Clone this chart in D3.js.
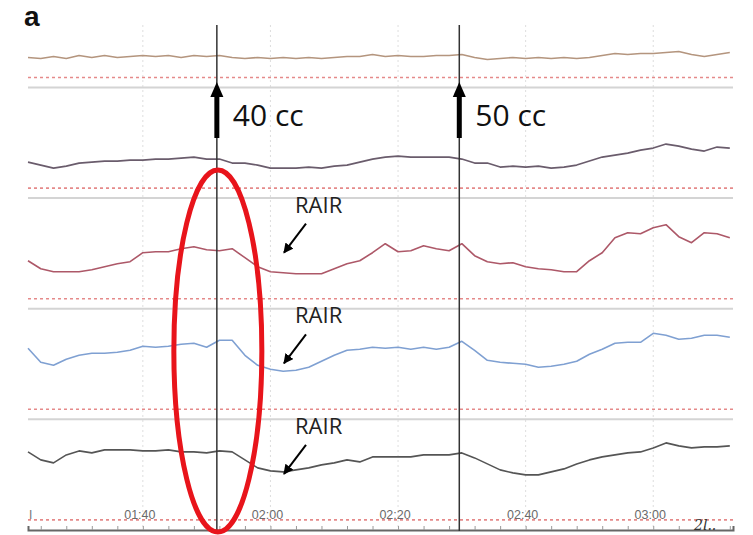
<!DOCTYPE html>
<html>
<head>
<meta charset="utf-8">
<script src="https://cdn.jsdelivr.net/npm/d3@7/dist/d3.min.js"></script>
<style>
  body { margin: 0; background: #fff; }
  svg { display: block; }
</style>
</head>
<body>
<script>
// sample times in seconds (2 s step)
var times = [82, 84, 86, 88, 90, 92, 94, 96, 98, 100, 102, 104, 106, 108, 110, 112, 114, 116, 118, 120,
  122, 124, 126, 128, 130, 132, 134, 136, 138, 140, 142, 144, 146, 148, 150, 152, 154, 156, 158, 160,
  162, 164, 166, 168, 170, 172, 174, 176, 178, 180, 182, 184, 186, 188, 190, 192];

// trace height above each channel's dotted baseline
var ch1 = [20, 19, 21, 19, 22, 20, 22, 20, 21, 22, 21, 22, 20, 22, 21, 22, 20, 19, 20, 19,
  20, 19, 20, 19, 20, 21, 21, 23, 21, 22, 21, 21, 22, 22, 23, 20, 18, 19, 20, 19,
  20, 19, 20, 19, 20, 22, 24, 23, 24, 24, 25, 26, 23, 21, 23, 25];
var ch2 = [26, 23, 20, 22, 25, 26, 27, 27, 28, 28, 29, 29, 30, 31, 29, 29, 25, 25, 23, 20,
  20, 20, 21, 20, 22, 23, 26, 29, 31, 32, 31, 31, 31, 31, 29, 25, 25, 21, 22, 21,
  22, 20, 21, 23, 27, 31, 33, 35, 38, 40, 44, 42, 39, 37, 41, 40];
var ch3 = [38, 30, 27, 27, 27, 29, 32, 35, 37, 46, 47, 47, 50, 52, 49, 48, 50, 41, 32, 27,
  26, 25, 25, 25, 30, 35, 38, 46, 55, 47, 48, 53, 50, 48, 55, 43, 37, 35, 36, 32,
  30, 29, 27, 27, 38, 46, 61, 66, 65, 71, 74, 62, 56, 66, 65, 61];
var ch4 = [61, 47, 44, 50, 54, 56, 56, 57, 59, 63, 62, 63, 65, 66, 62, 69, 69, 54, 44, 40,
  38, 39, 42, 48, 54, 59, 60, 62, 61, 62, 60, 62, 60, 62, 68, 59, 49, 47, 46, 45,
  42, 43, 45, 48, 55, 60, 66, 67, 67, 76, 74, 70, 71, 74, 74, 72];
var ch5 = [68, 60, 57, 65, 69, 67, 70, 70, 70, 69, 69, 70, 68, 68, 67, 69, 68, 60, 52, 49,
  48, 50, 52, 55, 57, 60, 58, 63, 63, 63, 63, 65, 65, 65, 67, 62, 56, 50, 47, 45,
  45, 48, 51, 56, 60, 63, 65, 67, 68, 72, 77, 74, 72, 73, 73, 74];

var traceColors = ["#b4957e", "#6a5c6c", "#ad5868", "#7fa0d2", "#555555"];
var channels = [ch1, ch2, ch3, ch4, ch5];

var tickTimes = [100, 120, 140, 160, 180];
var tickLabels = ["01:40", "02:00", "02:20", "02:40", "03:00"];
var doses = [{ t: 111.6, label: "40 cc" }, { t: 149.6, label: "50 cc" }];
var rairChannels = [2, 3, 4];

var svgWidth = 753;
var svgHeight = 535;

var svg = d3.select("body")
  .append("svg")
  .attr("width", svgWidth)
  .attr("height", svgHeight);

var x = d3.scaleLinear().domain([82, 192.5]).range([28, 733]);

// channel bands
var firstBase = 77.5;
var bandH = 110.6;
var baseY = function (i) { return firstBase + i * bandH; };

// vertical dotted grid
svg.selectAll(".grid")
  .data(tickTimes)
  .enter()
  .append("line")
  .attr("x1", d => x(d))
  .attr("x2", d => x(d))
  .attr("y1", 25)
  .attr("y2", 530)
  .attr("stroke", "#dedede")
  .attr("stroke-width", 1)
  .attr("stroke-dasharray", "2,3");

// separators + dotted baselines
channels.forEach(function (vals, i) {
  var b = baseY(i);
  if (i < 4) {
    svg.append("line")
      .attr("x1", 28).attr("x2", 733)
      .attr("y1", b + 10).attr("y2", b + 10)
      .attr("stroke", "#d4d4d4")
      .attr("stroke-width", 2);
  }
  svg.append("line")
    .attr("x1", 28).attr("x2", 733)
    .attr("y1", b).attr("y2", b)
    .attr("stroke", "#e58a8a")
    .attr("stroke-width", 1.6)
    .attr("stroke-dasharray", "3,3");
});

// tick labels (they sit on the last dotted line)
svg.selectAll(".tlabel")
  .data(tickTimes)
  .enter()
  .append("text")
  .attr("x", d => x(d) - 3)
  .attr("y", 519)
  .attr("text-anchor", "middle")
  .style("font-family", "Liberation Sans, Arial, sans-serif")
  .style("font-size", "12.5px")
  .style("fill", "#6a6a6a")
  .text((d, i) => tickLabels[i]);

svg.append("text")
  .attr("x", 29).attr("y", 519)
  .style("font-family", "Liberation Sans, Arial, sans-serif")
  .style("font-size", "12px")
  .style("fill", "#777")
  .text("I");

// bottom axis
var axis = d3.axisTop(x)
  .tickValues(d3.range(84, 193, 4))
  .tickSize(4)
  .tickFormat("");
var axisG = svg.append("g")
  .attr("transform", "translate(0,530)")
  .call(axis);
axisG.select(".domain").attr("stroke", "#666").attr("stroke-width", 2);
axisG.selectAll(".tick line").attr("stroke", "#999");

svg.append("text")
  .attr("x", 694).attr("y", 530)
  .style("font-family", "DejaVu Serif, serif")
  .style("font-style", "italic")
  .style("font-size", "14px")
  .style("fill", "#333")
  .text("2l..");

// traces
channels.forEach(function (vals, i) {
  var y = d3.scaleLinear().domain([0, 100]).range([baseY(i), baseY(i) - 100]);
  var line = d3.line()
    .x((d, j) => x(times[j]))
    .y(d => y(d));
  svg.append("path")
    .datum(vals)
    .attr("d", line)
    .attr("fill", "none")
    .attr("stroke", traceColors[i])
    .attr("stroke-width", 1.6)
    .attr("stroke-linejoin", "round");
});

// dose lines, arrows, labels
doses.forEach(function (d) {
  var xx = x(d.t);
  svg.append("line")
    .attr("x1", xx).attr("x2", xx)
    .attr("y1", 25).attr("y2", 531)
    .attr("stroke", "#333")
    .attr("stroke-width", 1.5);
  svg.append("rect")
    .attr("x", xx - 2.5).attr("y", 95)
    .attr("width", 5).attr("height", 43)
    .attr("fill", "#000");
  svg.append("path")
    .attr("d", `M${xx},82 L${xx - 6.5},97 L${xx + 6.5},97 Z`)
    .attr("fill", "#000");
  svg.append("text")
    .attr("x", xx + 16).attr("y", 126)
    .style("font-family", "Open Sans, sans-serif")
    .style("font-size", "30px")
    .style("fill", "#111")
    .text(d.label);
});

// RAIR annotations
svg.append("defs").append("marker")
  .attr("id", "ah")
  .attr("viewBox", "0 0 10 10")
  .attr("refX", 9).attr("refY", 5)
  .attr("markerWidth", 5).attr("markerHeight", 5)
  .attr("orient", "auto")
  .append("path")
  .attr("d", "M0,0 L10,5 L0,10 Z")
  .attr("fill", "#000");

rairChannels.forEach(function (i) {
  var top = baseY(i) - 86;
  svg.append("text")
    .attr("x", 295).attr("y", top)
    .style("font-family", "Open Sans, sans-serif")
    .style("font-size", "22px")
    .style("fill", "#222")
    .text("RAIR");
  svg.append("line")
    .attr("x1", 306).attr("y1", top + 11)
    .attr("x2", 284).attr("y2", top + 40)
    .attr("stroke", "#000")
    .attr("stroke-width", 2)
    .attr("marker-end", "url(#ah)");
});

// red highlight ellipse
svg.append("ellipse")
  .attr("cx", x(111.6) + 1)
  .attr("cy", 351)
  .attr("rx", 44)
  .attr("ry", 181)
  .attr("fill", "none")
  .attr("stroke", "#e8141b")
  .attr("stroke-width", 5);

// panel label
svg.append("text")
  .attr("x", 24).attr("y", 26)
  .style("font-family", "Liberation Sans, Arial, sans-serif")
  .style("font-weight", "bold")
  .style("font-size", "28px")
  .style("fill", "#111")
  .text("a");
</script>
</body>
</html>
